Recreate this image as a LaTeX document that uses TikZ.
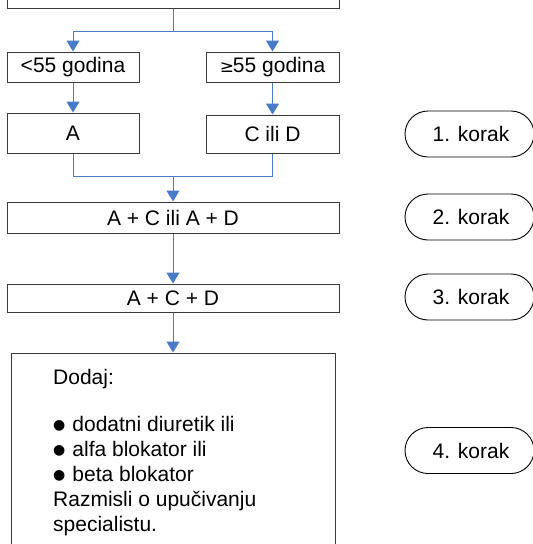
\documentclass[tikz,border=0pt]{standalone}
\usepackage{fontspec}
\setmainfont{Liberation Sans}
\newfontfamily\symfont{DejaVu Sans}
\usetikzlibrary{arrows.meta}
\definecolor{arrblue}{HTML}{4A7BC8}
\definecolor{boxgray}{HTML}{3A3A3A}
\newcommand{\bul}{\raisebox{1.5pt}{\symfont\fontsize{14}{14}\selectfont ●}\hspace{7pt}}
\tikzset{
  box/.style={draw=boxgray, line width=1pt, rectangle, inner sep=0pt, font=\fontsize{21}{25}\selectfont},
  pill/.style={draw=black, line width=0.9pt, rectangle, rounded corners=23pt, inner sep=0pt, minimum width=129pt, minimum height=46pt},
  conn/.style={draw=arrblue, line width=1pt},
  arr/.style={conn, -{Triangle[width=13pt,length=11pt]}},
  ktext/.style={font=\fontsize{21}{25}\selectfont, inner sep=0pt}
}
\begin{document}
\begin{tikzpicture}[x=1pt,y=-1pt]
\useasboundingbox (0,0) rectangle (533,544);
% top box (cut off)
\node[box, minimum width=332pt, minimum height=40pt] (top) at (173,-12) {};
\node[box, minimum width=132pt, minimum height=30pt] (lt) at (73,67) {<55 godina};
\node[box, minimum width=133pt, minimum height=30pt] (ge) at (272.5,67) {{\symfont\fontsize{17}{20}\selectfont ≥}\hspace{-1pt}55 godina};
\node[box, minimum width=132pt, minimum height=40pt] (a) at (73,133) {A};
\node[box, minimum width=133pt, minimum height=38pt] (cd) at (272.5,134) {C ili D};
\node[box, minimum width=332pt, minimum height=31pt] (b2) at (173,217.5) {A + C ili A + D};
\node[box, minimum width=332pt, minimum height=28pt] (b3) at (173,298) {A + C + D};
\node[box, minimum width=324pt, minimum height=246pt] (b4) at (173,476) {};
\node[anchor=north west, inner sep=0pt, align=left, font=\fontsize{21}{25}\selectfont] (t4) at (53,369)
  {Dodaj:\\[22pt]
   \bul dodatni diuretik ili\\
   \bul alfa blokator ili\\
   \bul beta blokator\\
   Razmisli o upučivanju\\
   specialistu.};
% pills
\node[pill] (p1) at (469.5,134) {};
\node[pill] (p2) at (469.5,217) {};
\node[pill] (p3) at (469.5,297) {};
\node[pill] (p4) at (469.5,450.5) {};
\node[ktext] (k1) at (471,134) {1. korak};
\node[ktext] (k2) at (471,217) {2. korak};
\node[ktext] (k3) at (471,297) {3. korak};
\node[ktext] (k4) at (471,450.5) {4. korak};
% connectors
\coordinate (split) at (173,31);
\coordinate (join) at (173,176);
\draw[conn] (top.south) -- (split);
\draw[arr] (split) -| (lt.north);
\draw[arr] (split) -| (ge.north);
\draw[arr] (lt.south) -- (a.north);
\draw[arr] (ge.south) -- (cd.north);
\draw[conn] (a.south) |- (join);
\draw[conn] (cd.south) |- (join);
\draw[arr] (join) -- (b2.north);
\draw[arr] (b2.south) -- (b3.north);
\draw[arr] (b3.south) -- (b4.north);
\end{tikzpicture}
\end{document}
